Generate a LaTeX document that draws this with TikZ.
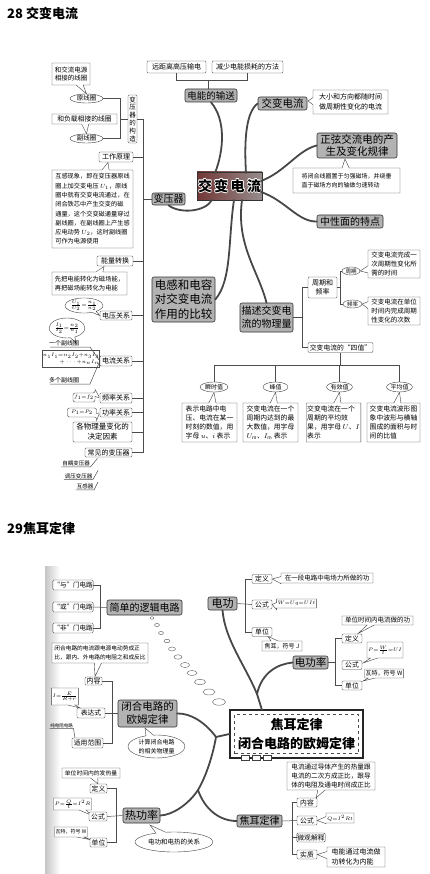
\documentclass[tikz,border=0pt]{standalone}
\usepackage{amsmath}
\usepackage{fontspec}
\setmainfont{Noto Sans CJK SC}
\usetikzlibrary{shapes.geometric,shapes.callouts}
\newcommand\fs[2]{\fontsize{#1}{#2}\selectfont}
\begin{document}
\begin{tikzpicture}[x=1pt,y=-1pt,
  box/.style={draw=black!75, fill=white, rounded corners=1.2pt, line width=0.4pt, inner sep=0.6pt, align=center},
  main/.style={draw=black!80, rounded corners=2pt, top color=gray!60, middle color=gray!8, bottom color=gray!60, line width=0.6pt, inner sep=0.5pt, align=center},
  oval/.style={ellipse, draw=black!75, fill=white, inner sep=0pt, line width=0.4pt},
  cbox/.style={rectangle callout, draw=black!75, fill=white, inner sep=1pt, line width=0.4pt, align=left},
  cell/.style={ellipse callout, draw=black!75, fill=white, inner sep=0pt, line width=0.4pt, align=center},
  lk/.style={draw=black!70, line width=0.5pt},
  br/.style={draw=black!72, line width=1.8pt, line cap=round},
  core/.style={draw=black!80, line width=0.8pt, left color={rgb,255:red,115;green,55;blue,55}, right color={rgb,255:red,150;green,140;blue,140}}
]
\useasboundingbox (0,0) rectangle (429,874);
\fill[white] (0,0) rectangle (429,874);

% ---------------- titles
\node[anchor=west, inner sep=0, font=\fs{13}{15}\bfseries] (t28) at (7,13) {28 交变电流};
\node[anchor=west, inner sep=0, font=\fs{13}{15}\bfseries] (t29) at (7,528) {29焦耳定律};

% ================= PART 28 =================
\node[box, font=\fs{7}{8}, minimum width=59pt, minimum height=12pt] (sA) at (176.5,67) {远距离高压输电};
\node[box, font=\fs{7}{8}, minimum width=71pt, minimum height=12pt] (sB) at (247.5,67) {减少电能损耗的方法};
\node[main, font=\fs{9.5}{11}, minimum width=52pt, minimum height=13pt] (nShu) at (211,95.5) {电能的输送};
\coordinate (j1) at (208,80);
\draw[lk] (sA.south) |- (j1);
\draw[lk] (sB.south) |- (j1);
\draw[lk] (j1) -- (j1 |- nShu.north);

\node[main, font=\fs{10.5}{12}, minimum width=49pt, minimum height=13pt] (nJB) at (282.5,103.5) {交变电流};
\node[cbox, font=\fs{7}{9.5}, minimum width=75pt, minimum height=24pt, callout absolute pointer={(308,101)}] (cJB) at (350.5,102) {大小和方向都随时间\\做周期性变化的电流};

\node[main, font=\fs{10.5}{12.5}, minimum width=80pt, minimum height=25pt] (nZX) at (357,145.5) {正弦交流电的产\\生及变化规律};
\node[cbox, font=\fs{6}{9}, minimum width=107pt, minimum height=25pt, callout absolute pointer={(345,159)}] (cZX) at (346.5,180.5) {将闭合线圈置于匀强磁场，并绕垂\\直于磁场方向的轴做匀速转动};
\node[main, font=\fs{10}{12}, minimum width=66pt, minimum height=13pt] (nZXM) at (350,221.5) {中性面的特点};

\node[core, minimum width=65pt, minimum height=28pt] (core) at (229.5,186) {};
\foreach \dx/\dy in {0.6/0,-0.6/0,0/0.6,0/-0.6,0.45/0.45,-0.45/0.45,0.45/-0.45,-0.45/-0.45}
  \node[white, font=\fs{14}{16}\bfseries] at ([shift={(\dx,\dy)}]core.center) {交\,变\,电\,流};
\node[black, font=\fs{14}{16}\bfseries] (tcore) at (core.center) {交\,变\,电\,流};

\node[main, font=\fs{10}{12}, minimum width=33pt, minimum height=12pt] (nBY) at (168.5,199) {变压器};
\node[main, font=\fs{11.5}{14.5}, minimum width=63pt, minimum height=45pt] (nDG) at (183.5,299.5) {电感和电容\\对交变电流\\作用的比较};
\node[main, font=\fs{10}{13}, minimum width=53pt, minimum height=29pt] (nMS) at (266.5,317.5) {描述交变电\\流的物理量};

% period / frequency
\node[box, font=\fs{7}{9}, minimum width=29pt, minimum height=21pt] (nZQ) at (322.5,287.5) {周期和\\频率};
\node[oval, font=\fs{5.5}{6}, minimum width=18pt, minimum height=8pt] (eZQ) at (351,271) {周期};
\node[oval, font=\fs{5.5}{6}, minimum width=19pt, minimum height=8pt] (ePL) at (352.5,304) {频率};
\node[cbox, font=\fs{6.5}{8.8}, minimum width=52pt, minimum height=28pt, callout absolute pointer={(eZQ.east)}] (tZQ) at (394,264) {交变电流完成一\\次周期性变化所\\需的时间};
\node[cbox, font=\fs{6.5}{8.8}, minimum width=52pt, minimum height=28pt, callout absolute pointer={(ePL.east)}] (tPL) at (394,311) {交变电流在单位\\时间内完成周期\\性变化的次数};
\coordinate (b2) at (340,0);
\draw[lk] (nZQ.east) -- (nZQ.east -| b2);
\draw[lk] (eZQ.west) -- (eZQ.west -| b2) -- (ePL.west -| b2) -- (ePL.west);

\node[box, font=\fs{6.8}{8}, minimum width=65pt, minimum height=10pt] (nSZ) at (340.5,347.5) {交变电流的“四值”};
\coordinate (b3) at (302,0);
\draw[lk] (nZQ.west) -- (nZQ.west -| b3) -- (nSZ.west -| b3) -- (nSZ.west);
\draw[lk] (nMS.east) -- (nMS.east -| b3);

% four values
\node[oval, font=\fs{6}{7}, minimum width=28pt, minimum height=10pt] (e1) at (214,387) {瞬时值};
\node[oval, font=\fs{6}{7}, minimum width=25pt, minimum height=10pt] (e2) at (275.5,387) {峰值};
\node[oval, font=\fs{6}{7}, minimum width=26pt, minimum height=10pt] (e3) at (339.5,387) {有效值};
\node[oval, font=\fs{6}{7}, minimum width=26pt, minimum height=10pt] (e4) at (399.5,387) {平均值};
\coordinate (h) at (0,365);
\draw[lk] (nSZ.south) -- (nSZ.south |- h);
\draw[lk] (e1.north |- h) -- (e4.north |- h);
\foreach \e in {e1,e2,e3,e4} \draw[lk] (\e.north) -- (\e.north |- h);

\node[cbox, font=\fs{6.8}{9}, minimum width=55pt, minimum height=39pt, callout absolute pointer={(e1.south)}] (b1) at (209.5,422.5) {表示电路中电\\压、电流在某一\\时刻的数值，用\\字母 $u$、$i$ 表示};
\node[cbox, font=\fs{6.8}{9}, minimum width=55pt, minimum height=39pt, callout absolute pointer={(e2.south)}] (bb2) at (270.5,422.5) {交变电流在一个\\周期内达到的最\\大数值，用字母\\$U_{\mathrm m}$、$I_{\mathrm m}$ 表示};
\node[cbox, font=\fs{6.8}{9}, minimum width=53pt, minimum height=39pt, callout absolute pointer={(e3.south)}] (bb3) at (333.5,422.5) {交变电流在一个\\周期的平均效\\果，用字母 $U$、$I$\\表示};
\node[cbox, font=\fs{6.8}{9}, minimum width=53pt, minimum height=39pt, callout absolute pointer={(e4.south)}] (bb4) at (393.5,422.5) {交变电流波形图\\象中波形与横轴\\围成的面积与时\\间的比值};

% ---- transformer side
\node[box, font=\fs{6.5}{7.8}, minimum width=9pt, minimum height=48pt, inner sep=0.3pt] (vGZ) at (132.5,119) {变\\压\\器\\的\\构\\造};
\node[oval, font=\fs{6.5}{7}, minimum width=33pt, minimum height=9pt] (eYX) at (86.5,98.5) {原线圈};
\node[oval, font=\fs{6.5}{7}, minimum width=33pt, minimum height=9pt] (eFX) at (86.5,138.5) {副线圈};
\node[cbox, font=\fs{6.5}{8.5}, minimum width=38pt, minimum height=22pt, callout absolute pointer={(eYX.north)}] (tYX) at (71,74) {和交流电源\\相接的线圈};
\node[cbox, font=\fs{6.8}{8}, minimum width=65pt, minimum height=10pt, callout absolute pointer={(eFX.north)}] (tFX) at (84.5,119) {和负载相接的线圈};
\coordinate (b4) at (120,0);
\draw[lk] (eYX.east) -- (eYX.east -| b4) -- (eFX.east -| b4) -- (eFX.east);
\draw[lk] (vGZ.west) -- (vGZ.west -| b4);

\node[box, font=\fs{7}{8}, minimum width=34pt, minimum height=10pt] (nGZ) at (116,157) {工作原理};
\node[cbox, font=\fs{6.2}{9.3}, minimum width=81pt, minimum height=78pt, callout absolute pointer={(108,162.5)}] (tGZ) at (92.5,209) {互感现象，即在变压器原线\\圈上加交变电压 $U_1$，原线\\圈中就有交变电流通过，在\\闭合铁芯中产生交变的磁\\通量，这个交变磁通量穿过\\副线圈，在副线圈上产生感\\应电动势 $U_2$，这时副线圈\\可作为电源使用};
\node[box, font=\fs{7}{8}, minimum width=36pt, minimum height=10pt] (nNL) at (115,261) {能量转换};
\node[cbox, font=\fs{6.3}{9}, minimum width=75pt, minimum height=23pt, callout absolute pointer={(104,266.5)}] (tNL) at (89.5,283.5) {先把电能转化为磁场能，\\再把磁场能转化为电能};

\node[box, font=\fs{7}{8}, minimum width=32pt, minimum height=9pt] (nDY) at (116,315.5) {电压关系};
\node[cell, font=\fs{5}{6}, minimum width=28pt, minimum height=15pt, callout absolute pointer={(nDY.west)}] (eDY) at (84,305.5) {$\tfrac{U_1}{U_2}{=}\tfrac{n_1}{n_2}$};
\node[cell, font=\fs{5.5}{6}, minimum width=30pt, minimum height=20pt, callout absolute pointer={(76,343)}] (eDL) at (67,328) {$\tfrac{I_1}{I_2}{=}\tfrac{n_2}{n_1}$};

\node[box, font=\fs{7}{8}, minimum width=32pt, minimum height=10pt] (nDL) at (116,361) {电流关系};
\draw[lk] (50,347) -- (90,347) -- (nDL.west) -- (90,384) -- (50,384);
\node[font=\fs{6}{7}, inner sep=0] (k1) at (64,343) {一个副线圈};
\node[draw=black!70, line width=0.4pt, font=\fs{4.6}{7}, minimum width=42pt, minimum height=17pt, inner sep=0.5pt, align=right] (fDL) at (71,359) {$n_1I_1{=}n_2I_2{+}n_3I_3$\\$+\cdots{+}n_nI_n$};
\node[font=\fs{6}{7}, inner sep=0] (k2) at (64,380) {多个副线圈};

\node[box, font=\fs{7}{8}, minimum width=32pt, minimum height=10pt] (nPL) at (116,398) {频率关系};
\node[cbox, rounded corners=2pt, font=\fs{5.5}{7}, minimum width=22pt, minimum height=9pt, callout absolute pointer={(nPL.west)}] (eF) at (84,397.5) {$f_1{=}f_2$};
\node[box, font=\fs{7}{8}, minimum width=32pt, minimum height=9pt] (nGL) at (116,412.5) {功率关系};
\node[cbox, rounded corners=2pt, font=\fs{5.5}{7}, minimum width=29pt, minimum height=9pt, callout absolute pointer={(nGL.west)}] (eP) at (82,412.5) {$P_1{=}P_2$};
\node[box, font=\fs{7.5}{10}, minimum width=59pt, minimum height=20pt] (nJD) at (102.5,432) {各物理量变化的\\决定因素};
\node[box, font=\fs{7}{8}, minimum width=47pt, minimum height=9pt] (nCJ) at (108.5,452.5) {常见的变压器};
\node[font=\fs{5.5}{6}, inner sep=0.6pt] (c1) at (76,463.5) {自耦变压器};
\node[font=\fs{5.5}{6}, inner sep=0.6pt] (c2) at (78.5,476) {调压变压器};
\node[font=\fs{5.5}{6}, inner sep=0.6pt] (c3) at (85,486.5) {互感器};
\draw[lk] (c1.south west) -- (c1.south east) -- ++(7,-8.5);
\draw[lk] (c2.south west) -- (c2.south east) -- ++(5,-9);
\draw[lk] (c3.south west) -- (c3.south east) -- ++(4,-8);

\coordinate (tk) at (143,0);
\draw[lk] (vGZ.east -| tk) -- (nCJ.east -| tk);
\foreach \n in {vGZ,nGZ,nNL,nDY,nDL,nPL,nGL,nJD,nCJ} \draw[lk] (\n.east) -- (\n.east -| tk);
\draw[lk] (nBY.west) -- (nBY.west -| tk);

% thick branches
\draw[br] (215,173) .. controls (224,150) and (226,120) .. (nShu.south);
\draw[br] (246,173) .. controls (244,140) and (246,112) .. (nJB.west);
\draw[br] (261,181) .. controls (285,172) and (298,150) .. (nZX.west);
\draw[br] (261,192) .. controls (285,200) and (298,222) .. (nZXM.west);
\draw[br] (nBY.south) .. controls (180,214) and (205,212) .. (212,200);
\draw[br] (234,200) .. controls (228,240) and (232,280) .. (nDG.east);
\draw[br] (242,200) .. controls (236,245) and (258,270) .. (nMS.north);

% ================= PART 29 =================
\shade[left color=gray!45, right color=white] (45,566) rectangle (60,874);

\node[box, font=\fs{6.5}{8}, minimum width=40pt, minimum height=10pt] (g1) at (73,585) {“与”门电路};
\node[box, font=\fs{6.5}{8}, minimum width=40pt, minimum height=10pt] (g2) at (73,607) {“或”门电路};
\node[box, font=\fs{6.5}{8}, minimum width=40pt, minimum height=10pt] (g3) at (73,628) {“非”门电路};
\node[main, font=\fs{10}{12}, minimum width=75pt, minimum height=15pt] (nLJ) at (144.5,607.5) {简单的逻辑电路};
\coordinate (c5) at (100,0);
\draw[lk] (g1.east) -- (g1.east -| c5) -- (g3.east -| c5) -- (g3.east);
\draw[lk] (g2.east) -- (nLJ.west);

\foreach \x/\y/\w/\h in {152/618/4/2.5, 157/625/5/3, 161/633/5/3, 167/641/6/3.5, 172/649/7/4, 178/657/8/4.5, 185/665/9/5, 192/673/10/5, 200/682/11/5.5, 209/692/12/6, 219/702/13/6.5}
  \draw[black!65, line width=0.4pt, fill=white] (\x,\y) ellipse [x radius=\w/2, y radius=\h/2];

\node[box, font=\fs{7}{8}, minimum width=17pt, minimum height=8pt] (nNR) at (93.5,681) {内容};
\node[cbox, font=\fs{5.7}{8.5}, minimum width=96pt, minimum height=20pt, callout absolute pointer={(95,676.5)}] (tNR) at (100,653) {闭合电路的电流跟电源电动势成正\\比，跟内、外电路的电阻之和成反比};
\node[box, font=\fs{6.8}{8}, minimum width=28pt, minimum height=10pt] (nBD) at (91,713) {表达式};
\node[cbox, font=\fs{5.5}{7}, minimum width=20pt, minimum height=17pt, callout absolute pointer={(80,708)}] (tBD) at (65,696.5) {$I{=}\frac{E}{R+r}$};
\node[font=\fs{4.5}{5}, inner sep=0.5pt] (tCD) at (61.5,725.5) {纯电阻电路};
\draw[lk] (tCD.south west) -- (tCD.south east) -- (75,738);
\node[box, font=\fs{6.8}{8}, minimum width=31pt, minimum height=10pt] (nSY) at (87.5,743) {适用范围};
\node[main, font=\fs{10.5}{13}, minimum width=59pt, minimum height=27pt] (nOM) at (147.5,713.5) {闭合电路的\\欧姆定律};
\coordinate (c6) at (112,0);
\draw[lk] (nNR.east) -- (nNR.east -| c6) -- (nSY.east -| c6) -- (nSY.east);
\draw[lk] (nBD.east) -- (nBD.east -| c6);
\draw[lk] (nOM.west -| c6) -- (nOM.west);
\node[cell, font=\fs{6}{8.5}, minimum width=57pt, minimum height=23pt, callout absolute pointer={(145,728)}] (cOM) at (156.5,746.5) {计算闭合电路\\的相关物理量};

\node[cbox, font=\fs{5.8}{7}, minimum width=58pt, minimum height=10pt, callout absolute pointer={(98,784)}] (tDY2) at (91,773) {单位时间内的发热量};
\node[box, font=\fs{6.8}{8}, minimum width=17pt, minimum height=9pt] (nDY2) at (98.5,788.5) {定义};
\node[cbox, font=\fs{5}{6}, minimum width=31pt, minimum height=12pt, callout absolute pointer={(91,815)}] (tGS2) at (72.5,804) {$P{=}\tfrac{Q}{t}{=}I^2R$};
\node[box, font=\fs{6.8}{8}, minimum width=18pt, minimum height=9pt] (nGS2) at (98,816.5) {公式};
\node[cbox, font=\fs{5}{6}, minimum width=32pt, minimum height=10pt, callout absolute pointer={(92,840)}] (tDW2) at (71,832) {瓦特，符号 W};
\node[box, font=\fs{6.8}{8}, minimum width=17pt, minimum height=9pt] (nDW2) at (98.5,842.5) {单位};
\node[main, font=\fs{11}{13}, minimum width=37pt, minimum height=15pt] (nRG) at (141.5,815.5) {热功率};
\coordinate (c7) at (116,0);
\draw[lk] (nDY2.east) -- (nDY2.east -| c7) -- (nDW2.east -| c7) -- (nDW2.east);
\draw[lk] (nGS2.east) -- (nRG.west);
\node[cell, font=\fs{6.5}{8}, minimum width=78pt, minimum height=20pt, callout absolute pointer={(150,825)}] (cRG) at (174,842) {电功和电热的关系};

% right side
\node[main, font=\fs{11}{13}, minimum width=29pt, minimum height=13pt] (nDG2) at (222.5,603.5) {电功};
\node[box, font=\fs{6.8}{8}, minimum width=20pt, minimum height=9pt] (nDY3) at (262,579) {定义};
\node[box, font=\fs{6.8}{8}, minimum width=20pt, minimum height=9pt] (nGS3) at (262,604.5) {公式};
\node[box, font=\fs{6.8}{8}, minimum width=20pt, minimum height=9pt] (nDW3) at (262,632) {单位};
\node[cbox, font=\fs{6.5}{8}, minimum width=92pt, minimum height=10pt, callout absolute pointer={(nDY3.east)}] (tDY3) at (327,578) {在一段电路中电场力所做的功};
\node[cbox, font=\fs{5}{6}, minimum width=33pt, minimum height=9pt, callout absolute pointer={(nGS3.east)}] (tGS3) at (296.5,603.5) {$W{=}Uq{=}UIt$};
\node[cbox, font=\fs{6}{7}, minimum width=40pt, minimum height=10pt, callout absolute pointer={(268,636.5)}] (tDW3) at (282,646) {焦耳，符号 J};
\coordinate (c8) at (245,0);
\draw[lk] (nDY3.west) -- (nDY3.west -| c8) -- (nDW3.west -| c8) -- (nDW3.west);
\draw[lk] (nDG2.east) -- (nGS3.west);

\node[main, font=\fs{10.5}{12}, minimum width=35pt, minimum height=13pt] (nGL3) at (310.5,662.5) {电功率};
\node[box, font=\fs{6.8}{8}, minimum width=20pt, minimum height=9pt] (nDY4) at (352,638.5) {定义};
\node[box, font=\fs{6.8}{8}, minimum width=20pt, minimum height=9pt] (nGS4) at (352,665) {公式};
\node[box, font=\fs{6.8}{8}, minimum width=20pt, minimum height=9pt] (nDW4) at (352,685.5) {单位};
\node[cbox, font=\fs{6.5}{8}, minimum width=71pt, minimum height=9pt, callout absolute pointer={(358,633.5)}] (tDY4) at (377.5,620.5) {单位时间内电流做的功};
\node[cbox, font=\fs{5.5}{6}, minimum width=36pt, minimum height=16pt, callout absolute pointer={(363,663)}] (tGS4) at (385,650) {$P{=}\tfrac{W}{t}{=}UI$};
\node[cbox, font=\fs{6}{7}, minimum width=38pt, minimum height=9pt, callout absolute pointer={(363,681)}] (tDW4) at (384,673.5) {瓦特，符号 W};
\coordinate (c9) at (335,0);
\draw[lk] (nDY4.west) -- (nDY4.west -| c9) -- (nDW4.west -| c9) -- (nDW4.west);
\draw[lk] (nGL3.east) -- (nGL3.east -| c9);

% center box
\node[draw=black!85, line width=1.3pt, fill=white, minimum width=133pt, minimum height=48pt, inner sep=0] (nCT) at (296.5,734) {};
\draw[black!70, dashed, line width=0.5pt] ([shift={(5,-5)}]nCT.south west) rectangle ([shift={(-5,5)}]nCT.north east);
\node[font=\fs{13}{19}\bfseries, align=center] (tCT) at (nCT.center) {焦耳定律\\闭合电路的欧姆定律};
\foreach \x in {245,256,267} \draw[black!75, fill=white, line width=0.5pt] (\x-4,755) rectangle (\x+4,760);

\node[cbox, font=\fs{6.6}{9}, minimum width=88pt, minimum height=28pt, callout absolute pointer={(316,798)}] (tJE) at (331,776) {电流通过导体产生的热量跟\\电流的二次方成正比，跟导\\体的电阻及通电时间成正比};
\node[main, font=\fs{10}{12}, minimum width=45pt, minimum height=12pt] (nJE) at (259.5,821) {焦耳定律};
\node[box, font=\fs{6.8}{8}, minimum width=20pt, minimum height=9pt] (nNR2) at (307,802.5) {内容};
\node[box, font=\fs{6.8}{8}, minimum width=20pt, minimum height=9pt] (nGS5) at (307,820.5) {公式};
\node[box, font=\fs{6.8}{8}, minimum width=28pt, minimum height=9pt] (nWG) at (311,837.5) {微观解释};
\node[box, font=\fs{6.8}{8}, minimum width=20pt, minimum height=9pt] (nSZ2) at (307,854.5) {实质};
\node[cbox, font=\fs{5.5}{7}, minimum width=26pt, minimum height=10pt, callout absolute pointer={(nGS5.east)}] (tGS5) at (340,818) {$Q{=}I^2Rt$};
\node[cbox, font=\fs{7}{9.5}, minimum width=58pt, minimum height=20pt, callout absolute pointer={(nSZ2.east)}] (tSZ2) at (356,857) {电能通过电流做\\功转化为内能};
\coordinate (c10) at (292,0);
\draw[lk] (nNR2.west) -- (nNR2.west -| c10) -- (nSZ2.west -| c10) -- (nSZ2.west);
\draw[lk] (nWG.west) -- (nWG.west -| c10);
\draw[lk] (nJE.east) -- (nGS5.west);

% thick branches part 29
\draw[br] (262,710) -- (257,694);
\draw[br] (257,694) .. controls (245,665) and (225,640) .. (nDG2.south);
\draw[br] (257,694) .. controls (262,672) and (278,664) .. (nGL3.west);
\draw[br] (nCT.west) -- (216,737);
\draw[br] (216,737) .. controls (205,722) and (190,713) .. (nOM.east);
\draw[br] (216,737) .. controls (212,760) and (204,780) .. (198,790);
\draw[br] (198,790) .. controls (188,805) and (172,815) .. (nRG.east);
\draw[br] (198,790) .. controls (205,810) and (220,821) .. (nJE.west);
\end{tikzpicture}
\end{document}
